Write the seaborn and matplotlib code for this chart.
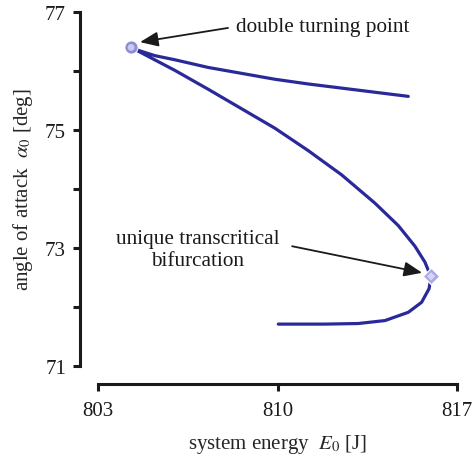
import matplotlib
matplotlib.use("Agg")
import matplotlib.pyplot as plt
import seaborn as sns
import pandas as pd

# ---- data ----
# upper branch (right end -> double turning point)
upper_x = [815.10, 813.80, 812.50, 811.20, 809.90, 808.60, 807.30, 806.00, 805.22, 804.64]
upper_y = [75.57, 75.64, 75.71, 75.78, 75.86, 75.96, 76.06, 76.19, 76.26, 76.34]
# lower branch (double turning point -> transcritical point -> left end)
lower_x = [804.29, 806.00, 807.30, 808.60, 809.90, 811.20, 812.50, 813.80, 814.71,
           815.36, 815.75, 815.91, 815.99, 815.91, 815.62, 815.10, 814.19, 813.15,
           811.85, 810.03]
lower_y = [76.40, 76.01, 75.69, 75.36, 75.03, 74.65, 74.24, 73.76, 73.38,
           73.03, 72.76, 72.59, 72.52, 72.31, 72.08, 71.91, 71.77, 71.72,
           71.71, 71.71]
turning_pt = (804.29, 76.40)
transcrit_pt = (815.99, 72.52)
xticks = [803, 810, 817]
yticks = [71, 72, 73, 74, 75, 76, 77]
ytick_labels = ["71", "", "73", "", "75", "", "77"]
xlabel = r"system energy  $E_0$ [J]"
ylabel = r"angle of attack  $\alpha_0$ [deg]"
note1 = "double turning point"
note2 = "unique transcritical\nbifurcation"

# ---- style ----
sns.set_style("ticks")
plt.rcParams["font.family"] = ["Liberation Serif", "DejaVu Serif"]
plt.rcParams["mathtext.fontset"] = "stix"

fig = plt.figure(figsize=(4.74, 4.56), dpi=100)
ax = fig.add_axes([98/474, 1-367/456, (457-98)/474, (367-13)/456])

df = pd.DataFrame({"E": upper_x + lower_x, "a": upper_y + lower_y})
line_col = "#29299a"
sns.lineplot(data=df, x="E", y="a", sort=False, estimator=None,
             color=line_col, lw=2.3, ax=ax)

mk = pd.DataFrame({"E": [turning_pt[0]], "a": [turning_pt[1]]})
sns.scatterplot(data=mk, x="E", y="a", marker="o", s=90, color="#8e8cd4",
                edgecolor="#ffffff", linewidth=0.7, zorder=5, ax=ax)
sns.scatterplot(data=mk, x="E", y="a", marker="o", s=24, color="#cac9f1",
                edgecolor="none", zorder=6, ax=ax)
mk2 = pd.DataFrame({"E": [transcrit_pt[0]], "a": [transcrit_pt[1]]})
sns.scatterplot(data=mk2, x="E", y="a", marker="D", s=72, color="#a9a7e4",
                edgecolor="#ffffff", linewidth=0.9, zorder=5, ax=ax)
sns.scatterplot(data=mk2, x="E", y="a", marker="D", s=18, color="#d6d5f5",
                edgecolor="none", zorder=6, ax=ax)

ax.set_xlim(803, 817)
ax.set_ylim(71, 77)
ax.set_xticks(xticks)
ax.set_xticklabels([str(t) for t in xticks])
ax.set_yticks(yticks)
ax.set_yticklabels(ytick_labels)
ax.set_xlabel(xlabel, fontsize=15, labelpad=8)
ax.set_ylabel(ylabel, fontsize=15, labelpad=7)
ax.tick_params(axis="both", labelsize=15, length=5, width=2.2, color="#1a1a1a",
               labelcolor="#1a1a1a")
ax.tick_params(axis="x", pad=7.5)
ax.tick_params(axis="y", pad=5)
sns.despine(ax=ax, offset=13)
for s in ("left", "bottom"):
    ax.spines[s].set_linewidth(2.2)
    ax.spines[s].set_color("#1a1a1a")

ap = dict(arrowstyle="-|>,head_length=1.1,head_width=0.45", color="#1a1a1a",
          lw=1.3, shrinkA=0, shrinkB=0)
ax.annotate("", xy=(804.64, 76.49), xytext=(808.07, 76.73), arrowprops=ap)
ax.text(808.38, 76.75, note1, fontsize=15.3, ha="left", va="center", color="#1a1a1a")
ax.annotate("", xy=(815.64, 72.58), xytext=(810.57, 73.03), arrowprops=ap)
ax.text(806.9, 72.97, note2, fontsize=15.3, ha="center", va="center",
        color="#1a1a1a", linespacing=1.2)

fig.savefig("out.png", dpi=100)
